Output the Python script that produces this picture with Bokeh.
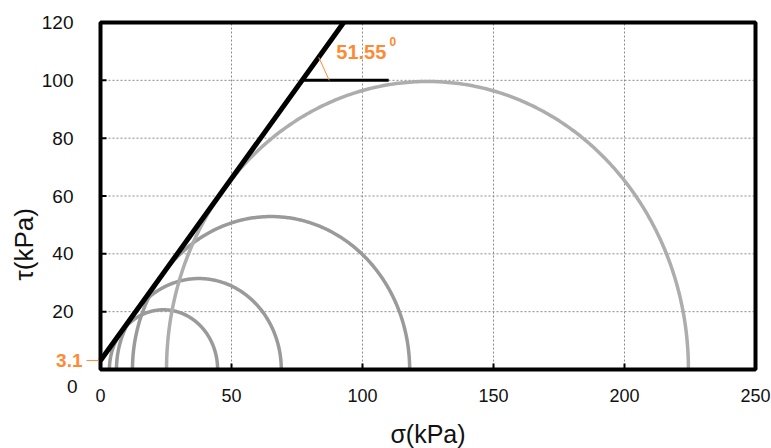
import numpy as np
from bokeh.plotting import figure
from bokeh.models import Range1d
from bokeh.core.properties import value
from bokeh.embed import file_html
from bokeh.resources import INLINE

# Mohr circles: minor and major principal stresses (kPa)
sigma3 = [3.4, 6.1, 12.2, 25.2]
sigma1 = [44.7, 69.0, 118.0, 224.4]
circle_colors = ["#9a9a9a", "#9a9a9a", "#9a9a9a", "#adadad"]

# Failure envelope
cohesion = 3.1
phi_deg = 51.55
angle_line_y = 100.0
angle_line_end = 110.0

x_ticks = [0, 50, 100, 150, 200, 250]
y_ticks = [20, 40, 60, 80, 100, 120]
x_tick_labels = ["0", "50", "100", "150", "200", "250"]
y_tick_labels = ["20", "40", "60", "80", "100", "120"]
x_title = "σ(kPa)"
y_title = "τ(kPa)"

ORANGE = "#ff8a33"
FONT = value("Liberation Sans")

# ---- layout (pixels) ----
W, H = 771, 448
PL, PR, PT, PB = 100, 755, 22, 369          # plot box in canvas pixels
X0, X1 = x_ticks[0], x_ticks[-1]
Y0, Y1 = 0, y_ticks[-1]
kx = (PR - PL) / (X1 - X0)
ky = (PB - PT) / (Y1 - Y0)

p = figure(width=W, height=H, output_backend="svg", toolbar_location=None,
           x_axis_type=None, y_axis_type=None,
           x_range=Range1d(X0 - PL / kx, X1 + (W - PR) / kx),
           y_range=Range1d(Y0 - (H - PB) / ky, Y1 + PT / ky),
           min_border=0, min_border_left=0, min_border_right=0,
           min_border_top=0, min_border_bottom=0)
p.outline_line_color = None
p.background_fill_color = "white"
p.border_fill_color = "white"

# grid (dashed)
gx = x_ticks[1:-1]
gy = y_ticks[:-1]
p.segment(x0=gx, x1=gx, y0=[Y0] * len(gx), y1=[Y1] * len(gx),
          line_color="#8a8a8a", line_width=1, line_dash="2 2")
p.segment(x0=[X0] * len(gy), x1=[X1] * len(gy), y0=gy, y1=gy,
          line_color="#8a8a8a", line_width=1, line_dash="2 2")

# Mohr semicircles
theta = np.linspace(0, np.pi, 300)
for s3, s1, c in zip(sigma3, sigma1, circle_colors):
    cen = (s1 + s3) / 2
    r = (s1 - s3) / 2
    p.line(cen + r * np.cos(theta), r * np.sin(theta), line_color=c, line_width=3.5)

# Failure envelope line
tanphi = np.tan(np.radians(phi_deg))
x_top = (Y1 - cohesion) / tanphi
p.line([0, x_top], [cohesion, Y1], line_color="black", line_width=5)

# Horizontal reference line for the friction angle
x_h = (angle_line_y - cohesion) / tanphi
p.line([x_h, angle_line_end], [angle_line_y, angle_line_y], line_color="black", line_width=3)
# Angle marker
ya = angle_line_y + 8
xa = (ya - cohesion) / tanphi
p.line([xa, xa + 4], [ya, angle_line_y], line_color=ORANGE, line_width=1)

p.text(x=[90], y=[109.7], text=["51.55"], text_color=ORANGE, text_font=FONT,
       text_font_style="bold", text_font_size="20px", text_baseline="middle")
p.text(x=[110.3], y=[113.3], text=["0"], text_color=ORANGE, text_font=FONT,
       text_font_style="bold", text_font_size="12px", text_baseline="middle")

# plot box
p.quad(left=[X0], right=[X1], bottom=[Y0], top=[Y1], fill_color=None,
       line_color="black", line_width=4)

# inward tick marks
tx = x_ticks[1:-1]
p.segment(x0=tx, x1=tx, y0=[Y0] * len(tx), y1=[Y0 + 6 / ky] * len(tx),
          line_color="black", line_width=2)
ty = y_ticks[:-1]
p.segment(x0=[X0] * len(ty), x1=[X0 + 6 / kx] * len(ty), y0=ty, y1=ty,
          line_color="black", line_width=2)

# tick labels
p.text(x=x_ticks, y=[Y0] * len(x_ticks), text=x_tick_labels, text_font=FONT,
       text_font_size="18px", text_color="#111111", text_align="center",
       text_baseline="top", y_offset=19)
p.text(x=[X0] * len(y_ticks), y=y_ticks, text=y_tick_labels, text_font=FONT,
       text_font_size="19px", text_color="#111111", text_align="right",
       text_baseline="middle", x_offset=-27)
p.text(x=[X0], y=[Y0], text=["0"], text_font=FONT, text_font_size="19px",
       text_color="#111111", text_align="right", text_baseline="middle",
       x_offset=-23, y_offset=17)

# cohesion label with its small tick
p.text(x=[X0], y=[cohesion], text=["3.1"], text_font=FONT, text_font_size="19px",
       text_font_style="bold", text_color=ORANGE, text_align="right",
       text_baseline="middle", x_offset=-18)
p.segment(x0=[X0 - 14 / kx], x1=[X0 - 2 / kx], y0=[cohesion], y1=[cohesion],
          line_color=ORANGE, line_width=1)

# axis titles
p.text(x=[(X0 + X1) / 2], y=[Y0], text=[x_title], text_font=FONT, text_font_size="25px",
       text_color="#111111", text_align="center", text_baseline="middle", y_offset=64)
p.text(x=[X0], y=[Y0], text=[y_title], text_font=FONT, text_font_size="26px",
       text_color="#111111", text_align="left", text_baseline="middle",
       angle=np.pi / 2, x_offset=-77, y_offset=-89)

open("out.html", "w").write(file_html(p, INLINE))
